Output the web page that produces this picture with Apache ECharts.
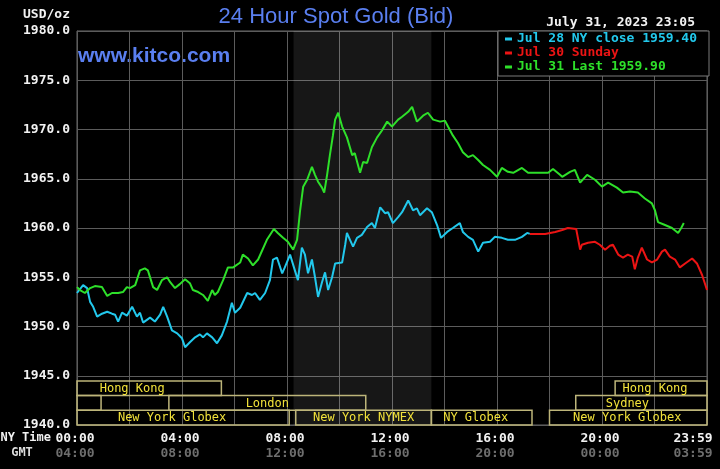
<!DOCTYPE html>
<html>
<head>
<meta charset="utf-8">
<script src="https://cdn.jsdelivr.net/npm/echarts@6/dist/echarts.min.js"></script>
<style>
html,body{margin:0;padding:0;background:#000;}
#chart{width:720px;height:469px;}
</style>
</head>
<body>
<div id="chart"></div>
<script>
// ---- DATA (minutes after 00:00 NY time, USD/oz) ----
const titleText = '24 Hour Spot Gold (Bid)';
const siteText = 'www.kitco.com';
const dateText = 'July 31, 2023 23:05';
const unitText = 'USD/oz';

const seriesNames = ['Jul 28 NY close 1959.40', 'Jul 30 Sunday', 'Jul 31 Last 1959.90'];

const cyanTimes = [0,2,14,23,30,37,46,57,69,80,87,94,103,114,126,137,144,151,167,178,190,197,206,217,229,240,247,258,270,281,288,297,309,320,331,343,354,361,373,389,400,407,418,430,441,448,457,469,475,487,498,505,514,521,528,537,544,551,560,567,574,583,590,606,613,617,624,631,640,651,663,674,681,693,704,711,722,734,743,757,768,777,784,800,811,823,832,846,859,875,882,894,905,917,928,944,955,971,985,1001,1017,1029,1035];
const cyanValues = [1953.4,1953.4,1954.2,1953.9,1952.5,1952.0,1951.0,1951.3,1951.5,1951.3,1951.2,1950.5,1951.4,1951.1,1952.0,1951.0,1951.4,1950.4,1950.9,1950.5,1951.2,1952.0,1951.0,1949.6,1949.3,1948.8,1947.9,1948.4,1948.9,1949.2,1948.9,1949.3,1948.9,1948.3,1949.1,1950.5,1952.4,1951.4,1951.9,1953.4,1953.2,1953.4,1952.7,1953.4,1954.7,1956.8,1957.0,1955.4,1956.0,1957.3,1955.7,1954.7,1958.0,1957.3,1955.4,1956.8,1955.0,1953.0,1954.5,1955.5,1953.7,1955.0,1956.4,1956.5,1958.3,1959.5,1958.8,1958.1,1959.0,1959.3,1960.1,1960.5,1960.0,1962.1,1961.5,1961.6,1960.5,1961.1,1961.6,1962.8,1961.8,1962.0,1961.3,1962.0,1961.6,1960.3,1959.0,1959.6,1960.0,1960.5,1959.6,1959.1,1958.8,1957.6,1958.5,1958.6,1959.1,1959.0,1958.8,1958.8,1959.1,1959.5,1959.4];

const redTimes = [1035,1070,1093,1109,1122,1141,1150,1154,1168,1184,1195,1207,1218,1225,1237,1248,1259,1269,1275,1282,1291,1303,1314,1326,1337,1344,1355,1367,1378,1390,1406,1417,1429,1440];
const redValues = [1959.4,1959.4,1959.6,1959.8,1960.0,1959.9,1957.8,1958.3,1958.5,1958.6,1958.3,1957.8,1958.2,1958.3,1957.3,1957.0,1957.3,1957.1,1955.8,1957.0,1958.0,1956.8,1956.5,1956.8,1957.6,1957.8,1957.1,1956.8,1956.0,1956.4,1956.9,1956.4,1955.2,1953.7];

const greenTimes = [0,7,18,30,41,57,69,80,94,105,114,121,133,144,155,162,174,183,194,206,213,224,235,247,258,265,277,288,299,309,315,322,334,345,357,373,379,391,402,414,434,450,459,471,482,494,503,510,517,526,537,544,551,560,565,571,578,585,590,597,606,617,629,635,647,654,663,674,686,697,709,720,734,743,757,766,777,791,802,814,830,841,848,859,871,882,894,905,917,928,944,960,971,985,997,1017,1031,1047,1077,1088,1104,1109,1127,1138,1150,1166,1184,1200,1214,1234,1248,1264,1282,1298,1314,1321,1328,1344,1360,1374,1381,1387];
const greenValues = [1954.0,1953.7,1953.4,1953.9,1954.1,1954.0,1953.1,1953.4,1953.4,1953.5,1954.0,1953.9,1954.2,1955.7,1955.9,1955.7,1954.0,1953.7,1954.7,1955.0,1954.5,1953.9,1954.3,1954.8,1954.4,1953.7,1953.5,1953.2,1952.6,1953.7,1953.2,1953.5,1954.7,1956.0,1956.0,1956.5,1957.3,1956.9,1956.2,1956.8,1958.8,1959.9,1959.5,1959.0,1958.6,1957.8,1958.8,1961.8,1964.2,1964.9,1966.2,1965.4,1964.7,1964.1,1963.6,1965.2,1967.4,1969.4,1971.0,1971.7,1970.3,1969.2,1967.4,1967.6,1965.6,1966.7,1966.6,1968.2,1969.2,1969.9,1970.8,1970.3,1971.0,1971.3,1971.8,1972.3,1970.8,1971.4,1971.7,1971.0,1970.8,1970.9,1970.3,1969.4,1968.6,1967.7,1967.2,1967.4,1966.9,1966.4,1965.9,1965.2,1966.1,1965.7,1965.6,1966.1,1965.6,1965.6,1965.6,1966.0,1965.4,1965.2,1965.7,1965.9,1964.6,1965.4,1964.9,1964.2,1964.6,1964.1,1963.6,1963.7,1963.6,1963.0,1962.5,1961.8,1960.6,1960.3,1960.0,1959.5,1960.0,1960.5];

const nyTickLabels = ['00:00','04:00','08:00','12:00','16:00','20:00','23:59'];
const gmtTickLabels = ['04:00','08:00','12:00','16:00','20:00','00:00','03:59'];

// NYMEX pit session (shaded), minutes
const shadeStart = 495, shadeEnd = 810;

// market sessions: name, start, end (minutes), row (0 = top row)
const sessionNames  = ['Hong Kong','','London','New York Globex','New York NYMEX','NY Globex','New York Globex','Sydney','Hong Kong'];
const sessionStarts = [0,   0,  210, 0,   500, 810,  1080, 1140, 1230];
const sessionEnds   = [330, 55, 660, 485, 810, 1040, 1440, 1440, 1440];
const sessionRows   = [0,   1,  1,   2,   2,   2,    2,    1,    0];

// ---- STYLE ----
const MONO = '"DejaVu Sans Mono", "Liberation Mono", monospace';
const BLUE = '#5a7ff0';
const GRID = '#5c5c5c';
const colors = ['#22c8ec', '#ec1414', '#2ee02a'];
const labelDx = [-17, 0, 0, -11, 0, -6, -1, -14, -6];

function zip(t, v) { const n = Math.min(t.length, v.length); const o = []; for (let i = 0; i < n; i++) o.push([t[i], v[i]]); return o; }

const sessionData = sessionNames.map((n, i) => [sessionStarts[i], sessionEnds[i], sessionRows[i], i]);

const chart = echarts.init(document.getElementById('chart'), null, {renderer: 'canvas'});

const option = {
  backgroundColor: '#000',
  animation: false,
  grid: { left: 77, right: 13, top: 31, bottom: 44, show: true, borderColor: '#6a6a6a', borderWidth: 1, backgroundColor: 'transparent', outerBoundsMode: 'none', containLabel: false },
  legend: {
    orient: 'vertical', left: 498, top: 31,
    padding: [1, 12, 2, 7], itemGap: 0, itemWidth: 7, itemHeight: 3, icon: 'rect',
    backgroundColor: '#000', borderColor: '#7a7a7a', borderWidth: 1,
    selectedMode: false,
    textStyle: { fontFamily: MONO, fontWeight: 'bold', fontSize: 13, lineHeight: 14 },
    data: seriesNames.map((n, i) => ({ name: n, textStyle: { color: colors[i] } }))
  },
  xAxis: {
    type: 'value', min: 0, max: 1440, interval: 120,
    axisLine: { show: false }, axisTick: { show: false },
    splitLine: { show: true, lineStyle: { color: GRID, width: 1 } },
    axisLabel: {
      interval: 0, margin: 6, showMaxLabel: true, showMinLabel: true, hideOverlap: false,
      formatter: function (v) {
        const i = v / 240;
        if (!Number.isInteger(i)) return '';
        const last = i === nyTickLabels.length - 1;
        return '{' + (last ? 'nl' : 'n') + '|' + nyTickLabels[i] + '}\n{' + (last ? 'gl' : 'g') + '|' + gmtTickLabels[i] + '}';
      },
      rich: {
        n:  { color: '#f2f2f2', fontFamily: MONO, fontWeight: 'bold', fontSize: 13, lineHeight: 15, padding: [0, 4, 0, 0] },
        nl: { color: '#f2f2f2', fontFamily: MONO, fontWeight: 'bold', fontSize: 13, lineHeight: 15, padding: [0, 28, 0, 0] },
        g:  { color: '#6e6e6e', fontFamily: MONO, fontWeight: 'bold', fontSize: 13, lineHeight: 15, padding: [0, 4, 0, 0] },
        gl: { color: '#6e6e6e', fontFamily: MONO, fontWeight: 'bold', fontSize: 13, lineHeight: 15, padding: [0, 28, 0, 0] }
      }
    }
  },
  yAxis: {
    type: 'value', min: 1940, max: 1980, interval: 5,
    axisLine: { show: true, lineStyle: { color: GRID } }, axisTick: { show: false },
    splitLine: { show: true, lineStyle: { color: GRID, width: 1 } },
    axisLabel: { margin: 7, color: '#f2f2f2', fontFamily: MONO, fontWeight: 'bold', fontSize: 13, formatter: v => v.toFixed(1), showMinLabel: true, showMaxLabel: true }
  },
  series: [
    {
      name: seriesNames[0], type: 'line', data: zip(cyanTimes, cyanValues), showSymbol: false, symbol: 'none',
      lineStyle: { color: colors[0], width: 2 }, itemStyle: { color: colors[0] }, z: 5,
      markArea: { silent: true, itemStyle: { color: 'rgba(255,255,255,0.09)' }, data: [[{ xAxis: shadeStart }, { xAxis: shadeEnd }]] }
    },
    { name: seriesNames[1], type: 'line', data: zip(redTimes, redValues), showSymbol: false, symbol: 'none', lineStyle: { color: colors[1], width: 2 }, itemStyle: { color: colors[1] }, z: 5 },
    { name: seriesNames[2], type: 'line', data: zip(greenTimes, greenValues), showSymbol: false, symbol: 'none', lineStyle: { color: colors[2], width: 2 }, itemStyle: { color: colors[2] }, z: 6 },
    {
      type: 'custom', silent: true, clip: false, z: 4,
      data: sessionData,
      encode: { x: [0, 1] },
      renderItem: function (params, api) {
        const s = api.value(0), e = api.value(1), row = api.value(2), idx = api.value(3);
        const p1 = api.coord([s, 1940]);
        const p2 = api.coord([e, 1940]);
        const bottom = p1[1];
        const rowH = 14.7;
        const y0 = bottom - rowH * (3 - row);
        const name = sessionNames[idx];
        const children = [{
          type: 'rect',
          shape: { x: p1[0], y: y0, width: p2[0] - p1[0], height: rowH },
          style: { fill: 'none', stroke: '#bdb57a', lineWidth: 1.5 }
        }];
        if (name) {
          children.push({
            type: 'text',
            style: {
              text: name, x: (p1[0] + p2[0]) / 2 + labelDx[idx], y: y0 + rowH / 2 + 0.5,
              align: 'center', verticalAlign: 'middle', textAlign: 'center', textVerticalAlign: 'middle',
              fill: '#f2e23a', font: '12px ' + MONO
            }
          });
        }
        return { type: 'group', children: children };
      }
    }
  ],
  graphic: [
    { type: 'text', x: 336, y: 17, style: { text: titleText, fill: BLUE, font: '22px "Liberation Sans", Arial, sans-serif', textAlign: 'center', textVerticalAlign: 'middle', align: 'center', verticalAlign: 'middle' } },
    { type: 'text', x: 78, y: 56, style: { text: siteText, fill: BLUE, font: 'bold 21px "Liberation Sans", Arial, sans-serif', textAlign: 'left', textVerticalAlign: 'middle', align: 'left', verticalAlign: 'middle' } },
    { type: 'text', x: 695, y: 23, style: { text: dateText, fill: '#f2f2f2', font: 'bold 13px ' + MONO, textAlign: 'right', textVerticalAlign: 'middle', align: 'right', verticalAlign: 'middle' } },
    { type: 'text', x: 70, y: 15, style: { text: unitText, fill: '#f2f2f2', font: 'bold 13px ' + MONO, textAlign: 'right', textVerticalAlign: 'middle', align: 'right', verticalAlign: 'middle' } },
    { type: 'text', x: 51, y: 438, style: { text: 'NY Time', fill: '#f2f2f2', font: 'bold 12px ' + MONO, textAlign: 'right', textVerticalAlign: 'middle', align: 'right', verticalAlign: 'middle' } },
    { type: 'text', x: 22, y: 453, style: { text: 'GMT', fill: '#dcdcdc', font: 'bold 12px ' + MONO, textAlign: 'center', textVerticalAlign: 'middle', align: 'center', verticalAlign: 'middle' } }
  ]
};
chart.setOption(option);
</script>
</body>
</html>
